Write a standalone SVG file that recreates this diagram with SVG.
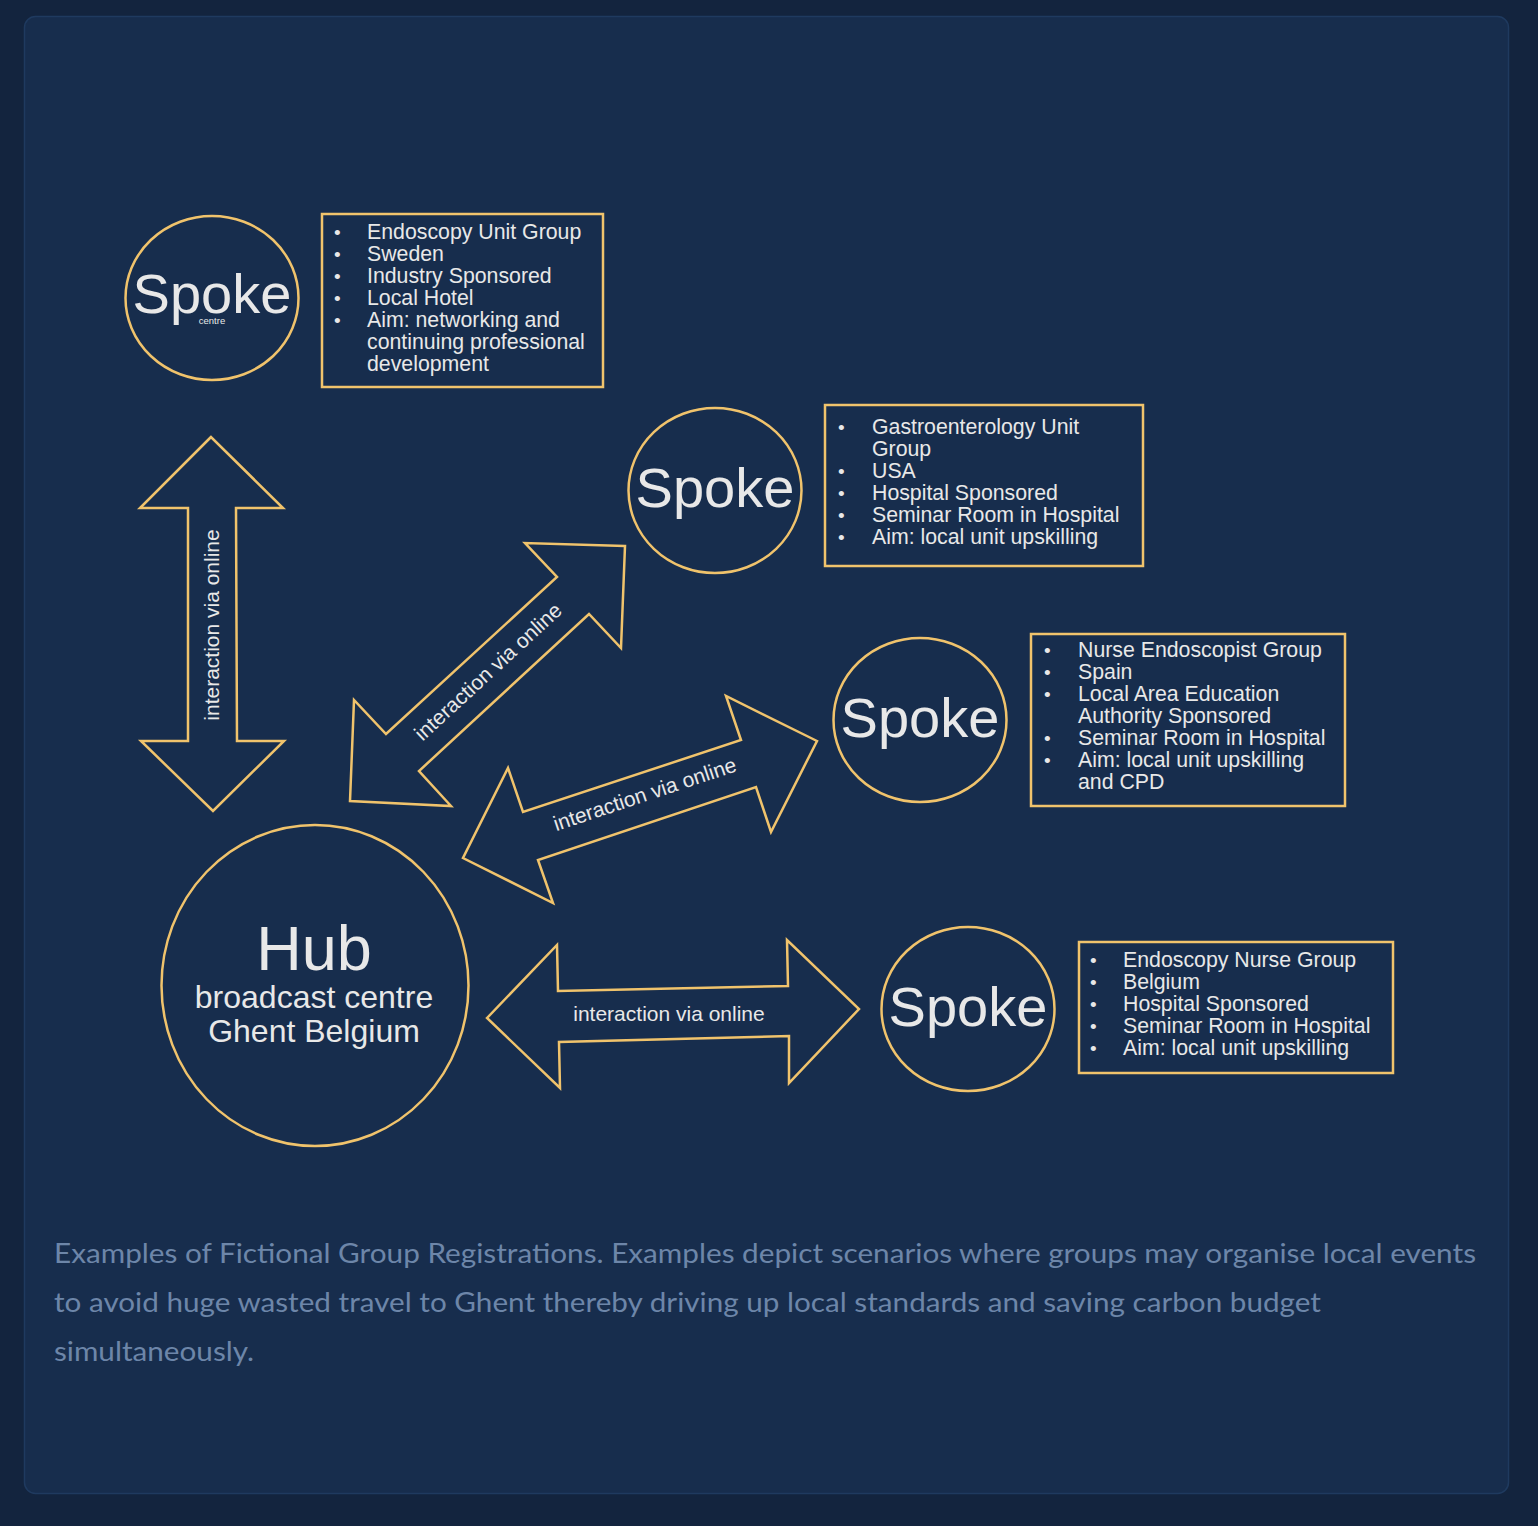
<svg xmlns="http://www.w3.org/2000/svg" width="1538" height="1526" viewBox="0 0 1538 1526">
<style>
.bg{fill:#13243e}
.panel{fill:#172d4d;stroke:#1f3a5f;stroke-width:1.5}
.shape{fill:#172d4d;stroke:#f0c36c;stroke-width:2.5;stroke-linejoin:miter}
.t{font-family:"Liberation Sans",Arial,sans-serif;fill:#e8e8e8}
.spoke{font-size:56px;text-anchor:middle}
.li{font-size:21.3px}
.bul{font-size:19px}
.lbl{font-size:21px;text-anchor:middle}
.cap{font-family:Lato,"Open Sans",sans-serif;font-size:27px;fill:#6d86a9}
</style>
<rect class="bg" x="0" y="0" width="1538" height="1526"/>
<rect class="panel" x="24.5" y="16.5" width="1484" height="1477" rx="11"/>

<g id="connectors">
  <g id="arrow-vertical">
    <polygon class="shape" points="211,437 140,508 188,508 188,741 141,741 213,811 284,741 237,741 236,508 283,508"/>
    <text class="t lbl" transform="translate(219,625) rotate(-90)">interaction via online</text>
  </g>
  <g id="arrow-diagonal">
    <polygon class="shape" points="625,546 525,543 557,577 386,734 354,700 350,801 451,806 419,771 589,614 621,648"/>
    <text class="t lbl" transform="translate(493,677) rotate(-42.6)">interaction via online</text>
  </g>
  <g id="arrow-slant">
    <polygon class="shape" points="817,741 726,696 741,740 523,812 508,768 463,858 553,903 538,860 756,787 771,832"/>
    <text class="t lbl" transform="translate(647,801) rotate(-18.4)">interaction via online</text>
  </g>
  <g id="arrow-horizontal">
    <polygon class="shape" points="487,1018 557,945 558,991 788,986 787,940 859,1009 789,1083 789,1036 559,1042 560,1088"/>
    <text class="t lbl" x="669" y="1021">interaction via online</text>
  </g>
</g>

<g id="hub">
  <ellipse class="shape" cx="315" cy="985.5" rx="153.5" ry="160.5"/>
  <text class="t" x="314" y="970" font-size="63" text-anchor="middle">Hub</text>
  <text class="t" x="314" y="1008" font-size="32" text-anchor="middle">broadcast centre</text>
  <text class="t" x="314" y="1042" font-size="32" text-anchor="middle">Ghent Belgium</text>
</g>

<g id="spoke1">
  <ellipse class="shape" cx="212" cy="298" rx="86.5" ry="82"/>
  <text class="t spoke" x="212" y="313">Spoke</text>
  <text class="t" x="212" y="324" font-size="9.5" text-anchor="middle">centre</text>
</g>
<g id="info1">
  <rect class="shape" x="322" y="214" width="281" height="173"/>
  <g class="t">
    <text class="bul" x="334" y="239">•</text><text class="li" x="367" y="239">Endoscopy Unit Group</text>
    <text class="bul" x="334" y="261">•</text><text class="li" x="367" y="261">Sweden</text>
    <text class="bul" x="334" y="283">•</text><text class="li" x="367" y="283">Industry Sponsored</text>
    <text class="bul" x="334" y="305">•</text><text class="li" x="367" y="305">Local Hotel</text>
    <text class="bul" x="334" y="327">•</text><text class="li" x="367" y="327">Aim: networking and</text>
    <text class="li" x="367" y="349">continuing professional</text>
    <text class="li" x="367" y="371">development</text>
  </g>
</g>

<g id="spoke2">
  <ellipse class="shape" cx="715" cy="490.5" rx="86.5" ry="82.5"/>
  <text class="t spoke" x="715" y="507">Spoke</text>
</g>
<g id="info2">
  <rect class="shape" x="825" y="405" width="318" height="161"/>
  <g class="t">
    <text class="bul" x="838" y="434">•</text><text class="li" x="872" y="434">Gastroenterology Unit</text>
    <text class="li" x="872" y="456">Group</text>
    <text class="bul" x="838" y="478">•</text><text class="li" x="872" y="478">USA</text>
    <text class="bul" x="838" y="500">•</text><text class="li" x="872" y="500">Hospital Sponsored</text>
    <text class="bul" x="838" y="522">•</text><text class="li" x="872" y="522">Seminar Room in Hospital</text>
    <text class="bul" x="838" y="544">•</text><text class="li" x="872" y="544">Aim: local unit upskilling</text>
  </g>
</g>

<g id="spoke3">
  <ellipse class="shape" cx="920" cy="720" rx="86.5" ry="82"/>
  <text class="t spoke" x="920" y="737">Spoke</text>
</g>
<g id="info3">
  <rect class="shape" x="1031" y="634" width="314" height="172"/>
  <g class="t">
    <text class="bul" x="1044" y="657">•</text><text class="li" x="1078" y="657">Nurse Endoscopist Group</text>
    <text class="bul" x="1044" y="679">•</text><text class="li" x="1078" y="679">Spain</text>
    <text class="bul" x="1044" y="701">•</text><text class="li" x="1078" y="701">Local Area Education</text>
    <text class="li" x="1078" y="723">Authority Sponsored</text>
    <text class="bul" x="1044" y="745">•</text><text class="li" x="1078" y="745">Seminar Room in Hospital</text>
    <text class="bul" x="1044" y="767">•</text><text class="li" x="1078" y="767">Aim: local unit upskilling</text>
    <text class="li" x="1078" y="789">and CPD</text>
  </g>
</g>

<g id="spoke4">
  <ellipse class="shape" cx="968" cy="1009" rx="86.5" ry="82"/>
  <text class="t spoke" x="968" y="1026">Spoke</text>
</g>
<g id="info4">
  <rect class="shape" x="1079" y="942" width="314" height="131"/>
  <g class="t">
    <text class="bul" x="1090" y="967">•</text><text class="li" x="1123" y="967">Endoscopy Nurse Group</text>
    <text class="bul" x="1090" y="989">•</text><text class="li" x="1123" y="989">Belgium</text>
    <text class="bul" x="1090" y="1011">•</text><text class="li" x="1123" y="1011">Hospital Sponsored</text>
    <text class="bul" x="1090" y="1033">•</text><text class="li" x="1123" y="1033">Seminar Room in Hospital</text>
    <text class="bul" x="1090" y="1055">•</text><text class="li" x="1123" y="1055">Aim: local unit upskilling</text>
  </g>
</g>

<g id="caption">
  <text class="cap" x="54" y="1263" textLength="1422" lengthAdjust="spacingAndGlyphs">Examples of Fictional Group Registrations. Examples depict scenarios where groups may organise local events</text>
  <text class="cap" x="54" y="1312" textLength="1267" lengthAdjust="spacingAndGlyphs">to avoid huge wasted travel to Ghent thereby driving up local standards and saving carbon budget</text>
  <text class="cap" x="54" y="1361" textLength="200" lengthAdjust="spacingAndGlyphs">simultaneously.</text>
</g>
</svg>
